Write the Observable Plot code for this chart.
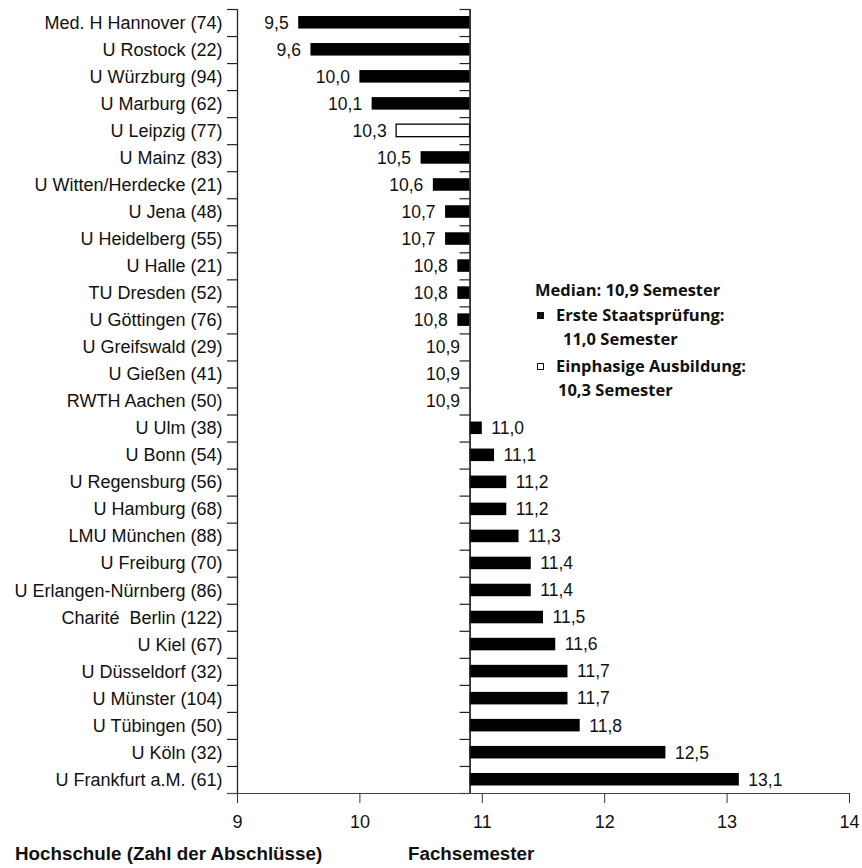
<!DOCTYPE html>
<html><head><meta charset="utf-8">
<script src="https://cdn.jsdelivr.net/npm/d3@7"></script>
<script src="https://cdn.jsdelivr.net/npm/@observablehq/plot@0.6"></script>
<style>
body{margin:0;background:#fff;}
#wrap{position:relative;width:862px;height:868px;font-family:"Liberation Sans",Arial,sans-serif;color:#111;}
#chart svg{display:block;}
.leg{position:absolute;font-family:"Open Sans",sans-serif;font-weight:700;font-size:16.5px;line-height:20px;white-space:nowrap;color:#111;}
.sq{display:inline-block;width:7px;height:7px;box-sizing:border-box;border:1px solid #111;vertical-align:middle;margin-right:12px;position:relative;top:-1px;}
.sq.fill{background:#111;}
.ttl{position:absolute;top:842px;font-family:"Liberation Sans",Arial,sans-serif;font-weight:700;font-size:18.8px;line-height:24px;white-space:nowrap;color:#111;}
</style></head>
<body>
<div id="wrap">
  <div id="chart"></div>
  <div class="leg" style="left:535px;top:280px;">Median: 10,9 Semester</div>
  <div class="leg" style="left:537px;top:305px;"><span class="sq fill"></span>Erste Staatsprüfung:</div>
  <div class="leg" style="left:563px;top:329px;">11,0 Semester</div>
  <div class="leg" style="left:537px;top:356px;"><span class="sq"></span>Einphasige Ausbildung:</div>
  <div class="leg" style="left:558px;top:380px;">10,3 Semester</div>
  <div class="ttl" style="left:15px;">Hochschule (Zahl der Abschlüsse)</div>
  <div class="ttl" style="left:408px;">Fachsemester</div>
</div>
<script>
const median = 10.9;
const names = ["Med. H Hannover (74)", "U Rostock (22)", "U Würzburg (94)", "U Marburg (62)", "U Leipzig (77)", "U Mainz (83)", "U Witten/Herdecke (21)", "U Jena (48)", "U Heidelberg (55)", "U Halle (21)", "TU Dresden (52)", "U Göttingen (76)", "U Greifswald (29)", "U Gießen (41)", "RWTH Aachen (50)", "U Ulm (38)", "U Bonn (54)", "U Regensburg (56)", "U Hamburg (68)", "LMU München (88)", "U Freiburg (70)", "U Erlangen-Nürnberg (86)", "Charité  Berlin (122)", "U Kiel (67)", "U Düsseldorf (32)", "U Münster (104)", "U Tübingen (50)", "U Köln (32)", "U Frankfurt a.M. (61)"];
const values = [9.5, 9.6, 10.0, 10.1, 10.3, 10.5, 10.6, 10.7, 10.7, 10.8, 10.8, 10.8, 10.9, 10.9, 10.9, 11.0, 11.1, 11.2, 11.2, 11.3, 11.4, 11.4, 11.5, 11.6, 11.7, 11.7, 11.8, 12.5, 13.1];
const types = ["S","S","S","S","E","S","S","S","S","S","S","S","S","S","S","S","S","S","S","S","S","S","S","S","S","S","S","S","S"];
const xTicks = [9, 10, 11, 12, 13, 14];

const rows = names.map((name, i) => ({name, i, value: values[i], type: types[i]}));
const boundaries = d3.range(names.length + 1);
const centers = d3.range(names.length).map(i => i + 0.5);
const fmt = v => v.toFixed(1).replace(".", ",");

const chart = Plot.plot({
  width: 862,
  height: 838,
  marginTop: 9,
  marginBottom: 45,
  marginLeft: 237,
  marginRight: 13,
  style: {fontFamily: "'Liberation Sans', Arial, sans-serif", color: "#111", background: "#fff"},
  x: {domain: [9, 14], label: null},
  y: {domain: [0, names.length], reverse: true, label: null},
  marks: [
    Plot.axisY({ticks: centers, tickFormat: v => names[Math.floor(v)], tickSize: 0, tickPadding: 15, fontSize: 18}),
    Plot.ruleY(boundaries, {y: d => d, x1: () => 9, x2: () => 9, insetLeft: -10, stroke: "#222", strokeWidth: 1.2}),
    Plot.ruleY(boundaries, {y: d => d, x1: () => median, x2: () => median, insetLeft: -10, stroke: "#222", strokeWidth: 1.2}),
    Plot.ruleX([9], {stroke: "#222", strokeWidth: 1.3}),
    Plot.ruleY([names.length], {insetLeft: -10, stroke: "#444", strokeWidth: 1}),
    Plot.axisX({ticks: xTicks, tickSize: 10, tickPadding: 12, fontSize: 18, tickFormat: d => String(d), stroke: "#333"}),
    Plot.rect(rows, {
      x1: () => median, x2: "value", y1: "i", y2: d => d.i + 1,
      insetTop: 7, insetBottom: 7.5,
      fill: d => d.type === "E" ? "white" : "black",
      stroke: d => d.type === "E" ? "black" : "none",
      strokeWidth: 1.3
    }),
    Plot.ruleX([median], {stroke: "#111", strokeWidth: 1.6}),
    Plot.text(rows.filter(d => d.value <= median), {
      x: "value", y: d => d.i + 0.5,
      text: d => fmt(d.value),
      textAnchor: "end", dx: -10,
      fontSize: 17.5, fill: "#111"
    }),
    Plot.text(rows.filter(d => d.value > median), {
      x: "value", y: d => d.i + 0.5,
      text: d => fmt(d.value),
      textAnchor: "start", dx: 9,
      fontSize: 17.5, fill: "#111"
    })
  ]
});
document.getElementById("chart").append(chart);
</script>
</body></html>
